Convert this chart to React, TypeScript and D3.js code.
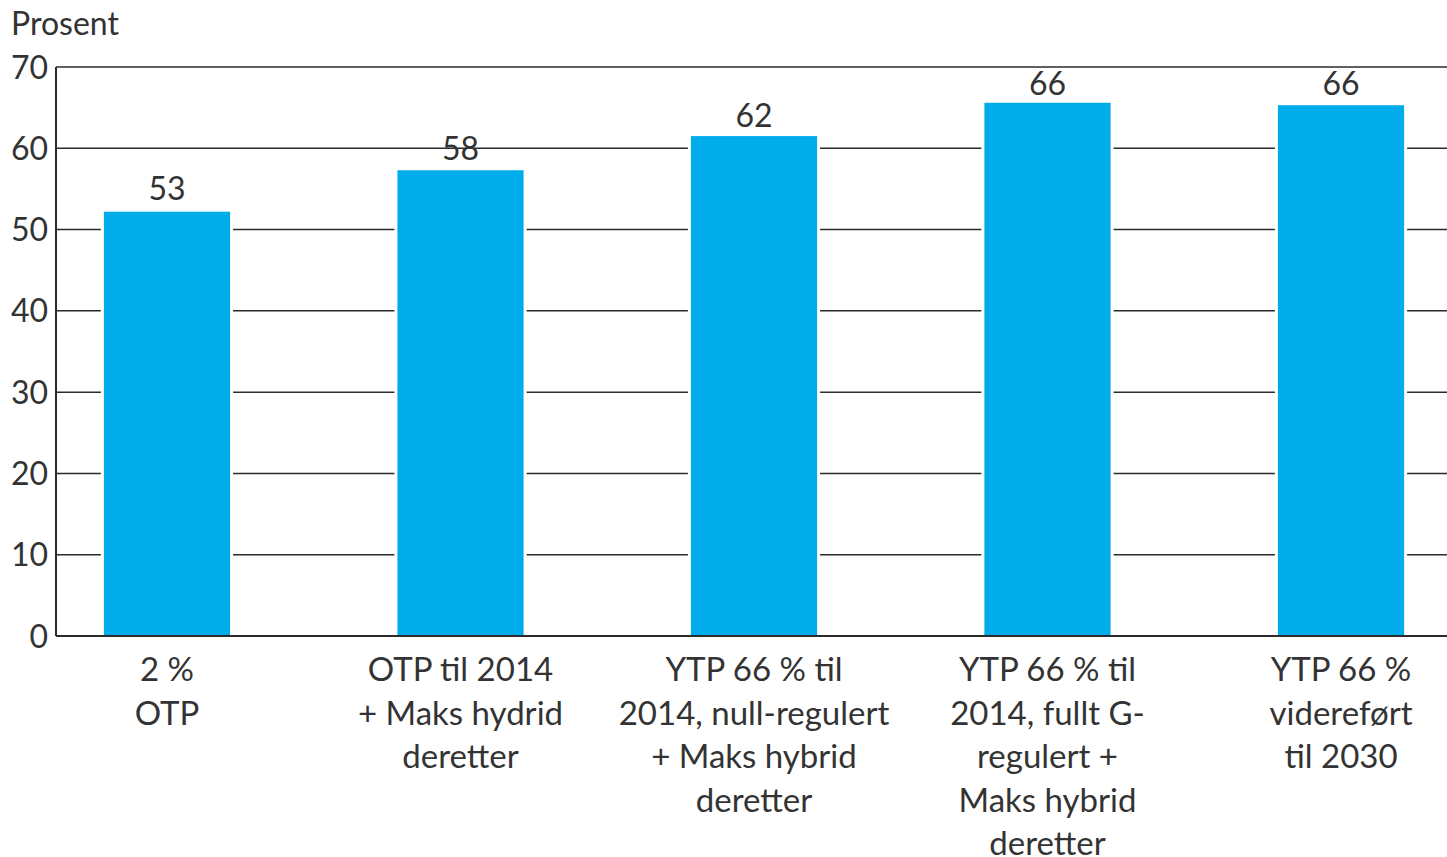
import React from "react";
import * as d3 from "d3";

const categories: string[][] = [
  ["2 %", "OTP"],
  ["OTP til 2014", "+ Maks hydrid", "deretter"],
  ["YTP 66 % til", "2014, null-regulert", "+ Maks hybrid", "deretter"],
  ["YTP 66 % til", "2014, fullt G-", "regulert +", "Maks hybrid", "deretter"],
  ["YTP 66 %", "videreført", "til 2030"],
];
const values: number[] = [52.2, 57.3, 61.5, 65.6, 65.3];
const valueLabels: number[] = [53, 58, 62, 66, 66];
const yTicks: number[] = [0, 10, 20, 30, 40, 50, 60, 70];
const yTitle = "Prosent";

const W = 1447;
const H = 857;
const FONT = "Lato, 'Open Sans', sans-serif";
const TEXT = "#333333";

export default function App() {
  const left = 56;
  const right = W;
  const y = d3.scaleLinear().domain([0, 70]).range([636, 67]);
  const keys = categories.map((_, i) => String(i));
  const x = d3.scalePoint<string>().domain(keys).range([167, 1341]);
  const bw = x.step() * 0.43;

  return (
    <svg
      width={W}
      height={H}
      style={{ position: "absolute", left: 0, top: 0, background: "#fff" }}
      fontFamily={FONT}
    >
      <text x={11} y={35} fontSize={32} fill={TEXT}>
        {yTitle}
      </text>
      {yTicks.map((t) => (
        <g key={t}>
          <line
            x1={left}
            x2={right}
            y1={y(t)}
            y2={y(t)}
            stroke="#2b2b2b"
            strokeWidth={t === 0 ? 2 : 1.5}
          />
          <text
            x={48}
            y={y(t)}
            dy="0.36em"
            textAnchor="end"
            fontSize={32}
            fill={TEXT}
          >
            {t}
          </text>
        </g>
      ))}
      <line x1={left} x2={left} y1={y(70)} y2={y(0)} stroke="#2b2b2b" strokeWidth={2} />
      {values.map((v, i) => {
        const cx = x(String(i)) as number;
        return (
          <g key={i}>
            <rect
              x={cx - bw / 2}
              y={y(v)}
              width={bw}
              height={y(0) - y(v) - 1}
              fill="#00ADEA"
              stroke="#ffffff"
              strokeWidth={6}
            />
            <rect x={cx - bw / 2} y={y(v)} width={bw} height={y(0) - y(v) - 1} fill="#00ADEA" />
            <text
              x={cx}
              y={y(valueLabels[i]) - 5}
              textAnchor="middle"
              fontSize={32}
              fill={TEXT}
            >
              {valueLabels[i]}
            </text>
            {categories[i].map((line, j) => (
              <text
                key={j}
                x={cx}
                y={681 + j * 43.5}
                textAnchor="middle"
                fontSize={33}
                fill={TEXT}
              >
                {line}
              </text>
            ))}
          </g>
        );
      })}
      <line x1={left} x2={right} y1={y(0)} y2={y(0)} stroke="#2b2b2b" strokeWidth={2} />
    </svg>
  );
}
